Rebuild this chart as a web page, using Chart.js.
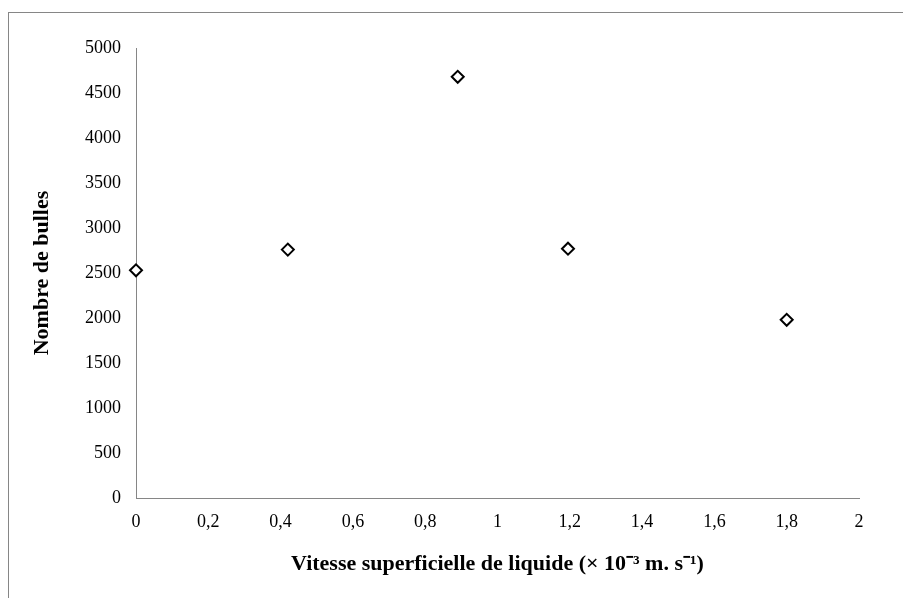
<!DOCTYPE html>
<html>
<head>
<meta charset="utf-8">
<script src="https://cdn.jsdelivr.net/npm/chart.js@4"></script>
<style>
    html, body { margin: 0; padding: 0; background: #fff; }
    #wrap { width: 903px; height: 598px; }
</style>
</head>
<body>
<div id="wrap"><canvas id="bubbleChart" width="903" height="598"></canvas></div>
<script>
// Values
const vitesse = [0, 0.42, 0.89, 1.195, 1.80];
const nombreBulles = [2530, 2760, 4680, 2770, 1980];

const xTicks = [0, 0.2, 0.4, 0.6, 0.8, 1, 1.2, 1.4, 1.6, 1.8, 2];
const xTickLabels = ['0', '0,2', '0,4', '0,6', '0,8', '1', '1,2', '1,4', '1,6', '1,8', '2'];
const yTicks = [0, 500, 1000, 1500, 2000, 2500, 3000, 3500, 4000, 4500, 5000];
const yTickLabels = ['0', '500', '1000', '1500', '2000', '2500', '3000', '3500', '4000', '4500', '5000'];

const axisGrey = '#868686';
const serif = '"Liberation Serif", "Times New Roman", serif';

// gray frame round the chart (only top and left edges visible)
const framePlugin = {
    id: 'frame',
    beforeDraw(chart) {
        const ctx = chart.ctx;
        ctx.save();
        ctx.strokeStyle = axisGrey;
        ctx.lineWidth = 1;
        ctx.strokeRect(8.5, 12.5, 1000, 1000);
        ctx.restore();
    }
};

const points = vitesse.map((v, i) => ({ x: v, y: nombreBulles[i] }));

new Chart(document.getElementById('bubbleChart'), {
    type: 'scatter',
    data: {
        datasets: [{
            data: points,
            pointStyle: 'rectRot',
            pointRadius: 6,
            pointBorderWidth: 2,
            pointBorderColor: '#000',
            pointBackgroundColor: '#fff',
            clip: false
        }]
    },
    options: {
        responsive: false,
        animation: false,
        layout: {
            padding: { left: 29, top: 48, right: 44, bottom: 20 }
        },
        plugins: {
            legend: { display: false },
            tooltip: { enabled: false }
        },
        scales: {
            x: {
                type: 'linear',
                min: 0,
                max: 2,
                afterBuildTicks: (scale) => {
                    scale.ticks = xTicks.map(v => ({ value: v }));
                },
                afterFit: (scale) => { scale.height = 80; },
                grid: { display: false, drawTicks: false },
                border: { display: true, color: axisGrey, width: 1 },
                ticks: {
                    padding: 13,
                    maxRotation: 0,
                    autoSkip: false,
                    color: '#000',
                    font: { family: serif, size: 18 },
                    callback: (value, index) => xTickLabels[index]
                },
                title: {
                    display: true,
                    text: 'Vitesse superficielle de liquide (\u00D7 10\u207B\u00B3 m. s\u207B\u00B9)',
                    color: '#000',
                    padding: 0,
                    font: { family: serif, size: 22, weight: 'bold' }
                }
            },
            y: {
                type: 'linear',
                min: 0,
                max: 5000,
                afterBuildTicks: (scale) => {
                    scale.ticks = yTicks.map(v => ({ value: v }));
                },
                afterFit: (scale) => { scale.width = 107; },
                grid: { display: false, drawTicks: false },
                border: { display: true, color: axisGrey, width: 1 },
                ticks: {
                    padding: 15,
                    autoSkip: false,
                    color: '#000',
                    font: { family: serif, size: 18 },
                    callback: (value, index) => yTickLabels[index]
                },
                title: {
                    display: true,
                    text: 'Nombre de bulles',
                    color: '#000',
                    padding: 0,
                    font: { family: serif, size: 22, weight: 'bold' }
                }
            }
        }
    },
    plugins: [framePlugin]
});
</script>
</body>
</html>
